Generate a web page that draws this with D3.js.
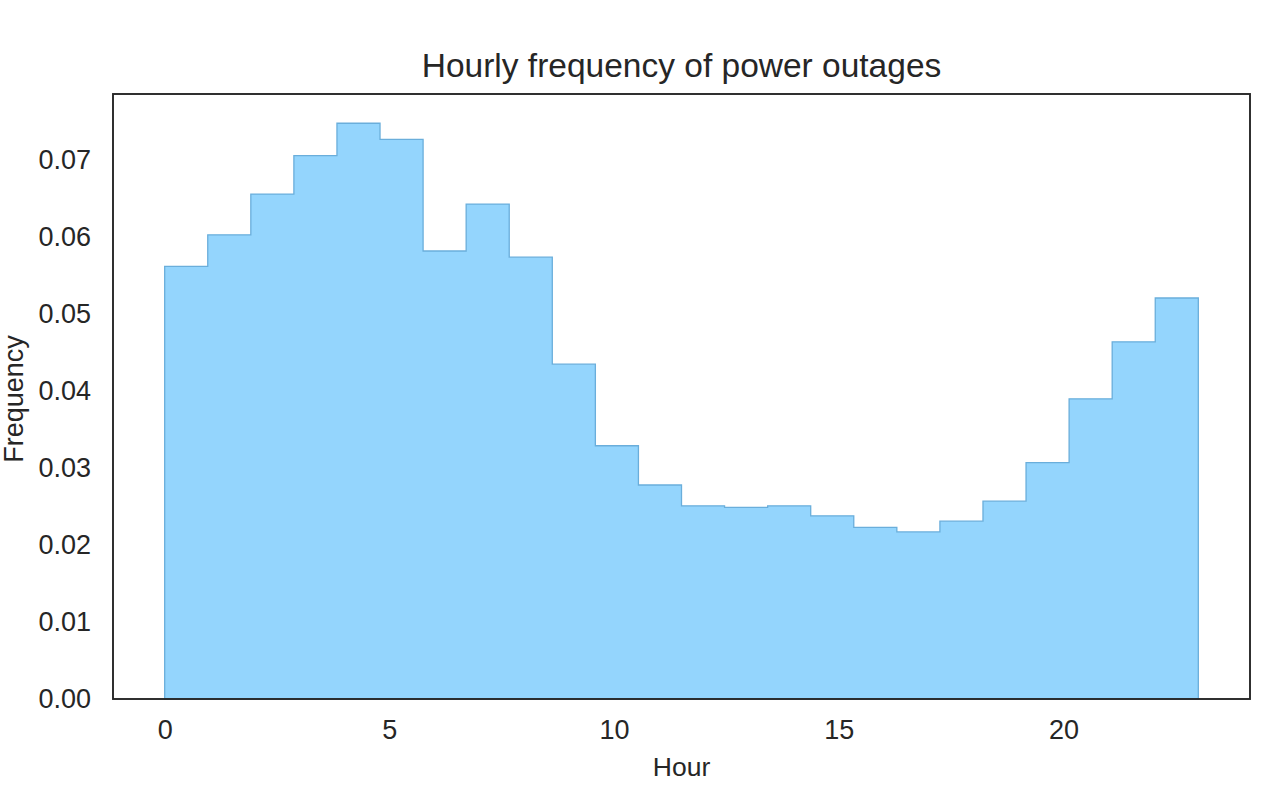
<!DOCTYPE html>
<html><head><meta charset="utf-8">
<script src="https://cdn.jsdelivr.net/npm/d3@7"></script>
<style>body{margin:0;background:#fff;} text{font-family:"Liberation Sans",Arial,sans-serif;fill:#262626;}</style>
</head><body>
<svg id="c" width="1280" height="786"></svg>
<script>
const hourMin = 0, hourMax = 23, binCount = 24;
const frequencies = [0.0562,0.0603,0.0656,0.0706,0.0748,0.0727,0.0582,0.0643,0.0574,0.0435,
  0.0329,0.0278,0.0251,0.0249,0.0251,0.0238,0.0223,0.0217,0.0231,0.0257,0.0307,0.0390,0.0464,0.0521];
const xTicks = [0,5,10,15,20];
const yTicks = [0,0.01,0.02,0.03,0.04,0.05,0.06,0.07];
const title = "Hourly frequency of power outages";
const xLabel = "Hour", yLabel = "Frequency";

const svg = d3.select("#c");
const L=113, R=1250, T=94, B=699;
const pad = (hourMax-hourMin)*0.05;
const x = d3.scaleLinear().domain([hourMin-pad, hourMax+pad]).range([L,R]);
const y = d3.scaleLinear().domain([0, 0.0786]).range([B,T]);
const w = (hourMax-hourMin)/binCount;

const pts = [[hourMin,0]];
frequencies.forEach((f,i)=>{ pts.push([hourMin+i*w,f]); pts.push([hourMin+(i+1)*w,f]); });
pts.push([hourMax,0]);
svg.append("path")
  .attr("d", d3.line().x(d=>x(d[0])).y(d=>y(d[1]))(pts)+"Z")
  .attr("fill","#94d5fd").attr("stroke","#6aaedb").attr("stroke-width",1.3);

svg.append("rect").attr("x",L).attr("y",T).attr("width",R-L).attr("height",B-T)
  .attr("fill","none").attr("stroke","#262626").attr("stroke-width",1.9);

const xa = svg.append("g").attr("transform",`translate(0,${B})`)
  .call(d3.axisBottom(x).tickValues(xTicks).tickSize(0).tickPadding(21).tickFormat(d3.format("d")));
xa.select(".domain").remove();
xa.selectAll("text").attr("font-size",27).style("font-family","'Liberation Sans',Arial,sans-serif").attr("fill","#262626");
const ya = svg.append("g").attr("transform",`translate(${L},0)`)
  .call(d3.axisLeft(y).tickValues(yTicks).tickSize(0).tickPadding(22).tickFormat(d3.format(".2f")));
ya.select(".domain").remove();
ya.selectAll("text").attr("font-size",27).style("font-family","'Liberation Sans',Arial,sans-serif").attr("fill","#262626");

svg.append("text").attr("x",(L+R)/2).attr("y",77).attr("text-anchor","middle").attr("font-size",33.5).text(title);
svg.append("text").attr("x",(L+R)/2).attr("y",776).attr("text-anchor","middle").attr("font-size",26.5).text(xLabel);
svg.append("text").attr("transform","translate(23,399) rotate(-90)").attr("text-anchor","middle").attr("font-size",27).text(yLabel);
</script>
</body></html>
